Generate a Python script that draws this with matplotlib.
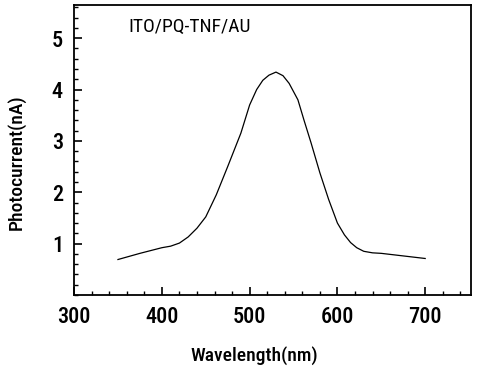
import matplotlib
matplotlib.use("Agg")
import matplotlib.pyplot as plt
from matplotlib.ticker import MultipleLocator

plt.rcParams['font.family'] = ['Roboto Condensed', 'DejaVu Sans']

# values
wavelength = [350, 375, 400, 410, 420, 430, 440, 450, 462, 475, 490, 500, 508, 515, 522,
              530, 538, 545, 555, 562, 570, 580, 590, 600, 608, 615, 622, 630, 640,
              650, 675, 700]
photocurrent = [0.69, 0.81, 0.92, 0.95, 1.01, 1.13, 1.30, 1.52, 1.95, 2.50, 3.15, 3.70, 4.00,
                4.18, 4.28, 4.34, 4.27, 4.12, 3.80, 3.40, 2.96, 2.38, 1.86, 1.40, 1.17,
                1.02, 0.92, 0.85, 0.82, 0.81, 0.76, 0.71]

fig = plt.figure(figsize=(4.78, 3.71), dpi=100)
ax = fig.add_axes([0.155, 0.205, 0.83, 0.782])
ax.plot(wavelength, photocurrent, color='black', lw=0.9)

ax.set_xlim(300, 752)
ax.set_ylim(0, 5.65)
ax.xaxis.set_major_locator(MultipleLocator(100))
ax.xaxis.set_minor_locator(MultipleLocator(20))
ax.yaxis.set_minor_locator(MultipleLocator(0.2))
ax.set_yticks([1, 2, 3, 4, 5])
ax.tick_params(which='both', direction='in', top=False, right=False, labelsize=16, pad=8)
ax.tick_params(which='major', length=6, width=1.2)
ax.tick_params(which='minor', length=3, width=1)
for lab in ax.get_xticklabels() + ax.get_yticklabels():
    lab.set_fontweight('medium')
for sp in ax.spines.values():
    sp.set_linewidth(1.3)

ax.text(362, 5.21, 'ITO/PQ-TNF/AU', fontsize=14, va='center', ha='left')
ax.set_xlabel('Wavelength(nm)', fontsize=14, fontweight='medium')
ax.set_ylabel('Photocurrent(nA)', fontsize=14, fontweight='medium')
ax.xaxis.set_label_coords(0.453, -0.175)
ax.yaxis.set_label_coords(-0.123, 0.459)

fig.savefig('out.png', dpi=100)
